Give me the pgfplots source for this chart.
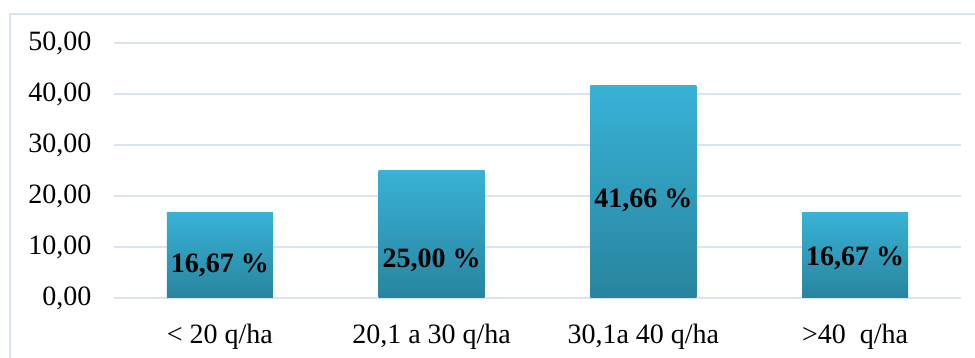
\documentclass[border=0pt]{standalone}
\usepackage{pgfplots}
\pgfplotsset{compat=1.18}
\usepackage{fontspec}
\setmainfont{Liberation Serif}
\definecolor{gridc}{RGB}{217,227,242}
\definecolor{framec}{RGB}{218,227,243}
\definecolor{bartop}{RGB}{56,178,214}
\definecolor{barbot}{RGB}{40,132,158}
\begin{document}
\begin{tikzpicture}
\useasboundingbox (0,0) rectangle (975pt,358pt);
\draw[framec, line width=1.5pt] (10pt,-2pt) -- (10pt,344pt) -- (977pt,344pt);
\begin{axis}[
  at={(114pt,60pt)}, anchor=south west, scale only axis,
  width=847pt, height=255pt,
  xmin=-0.5, xmax=3.5, ymin=0, ymax=50,
  ytick={0,10,20,30,40,50},
  xtick={0,1,2,3},
  xticklabels={{< 20 q/ha},{20,1 a 30 q/ha},{30,1a 40 q/ha},{>40~ q/ha}},
  axis line style={draw=none},
  tick style={draw=none},
  ymajorgrids, grid style={gridc, line width=1.5pt},
  font=\fontsize{28}{32}\selectfont,
  yticklabel style={/pgf/number format/fixed, /pgf/number format/fixed zerofill, /pgf/number format/precision=2, /pgf/number format/use comma, /pgf/number format/assume math mode=true, xshift=-19pt},
  xticklabel style={yshift=-23pt},
  mybar/.style={ybar, bar width=106pt, bar shift=0pt, draw=none, mark=none, top color=bartop, bottom color=barbot},
]
\addplot[mybar] coordinates {(0,16.67)};
\addplot[mybar] coordinates {(1,25)};
\addplot[mybar] coordinates {(2,41.66)};
\addplot[mybar] coordinates {(3,16.67)};
\node[font=\bfseries\fontsize{28}{32}\selectfont] at (axis cs:0,6.47) {16,67 \%};
\node[font=\bfseries\fontsize{28}{32}\selectfont] at (axis cs:1,7.45) {25,00 \%};
\node[font=\bfseries\fontsize{28}{32}\selectfont] at (axis cs:2,19.2) {41,66 \%};
\node[font=\bfseries\fontsize{28}{32}\selectfont] at (axis cs:3,7.84) {16,67 \%};
\end{axis}
\end{tikzpicture}
\end{document}
